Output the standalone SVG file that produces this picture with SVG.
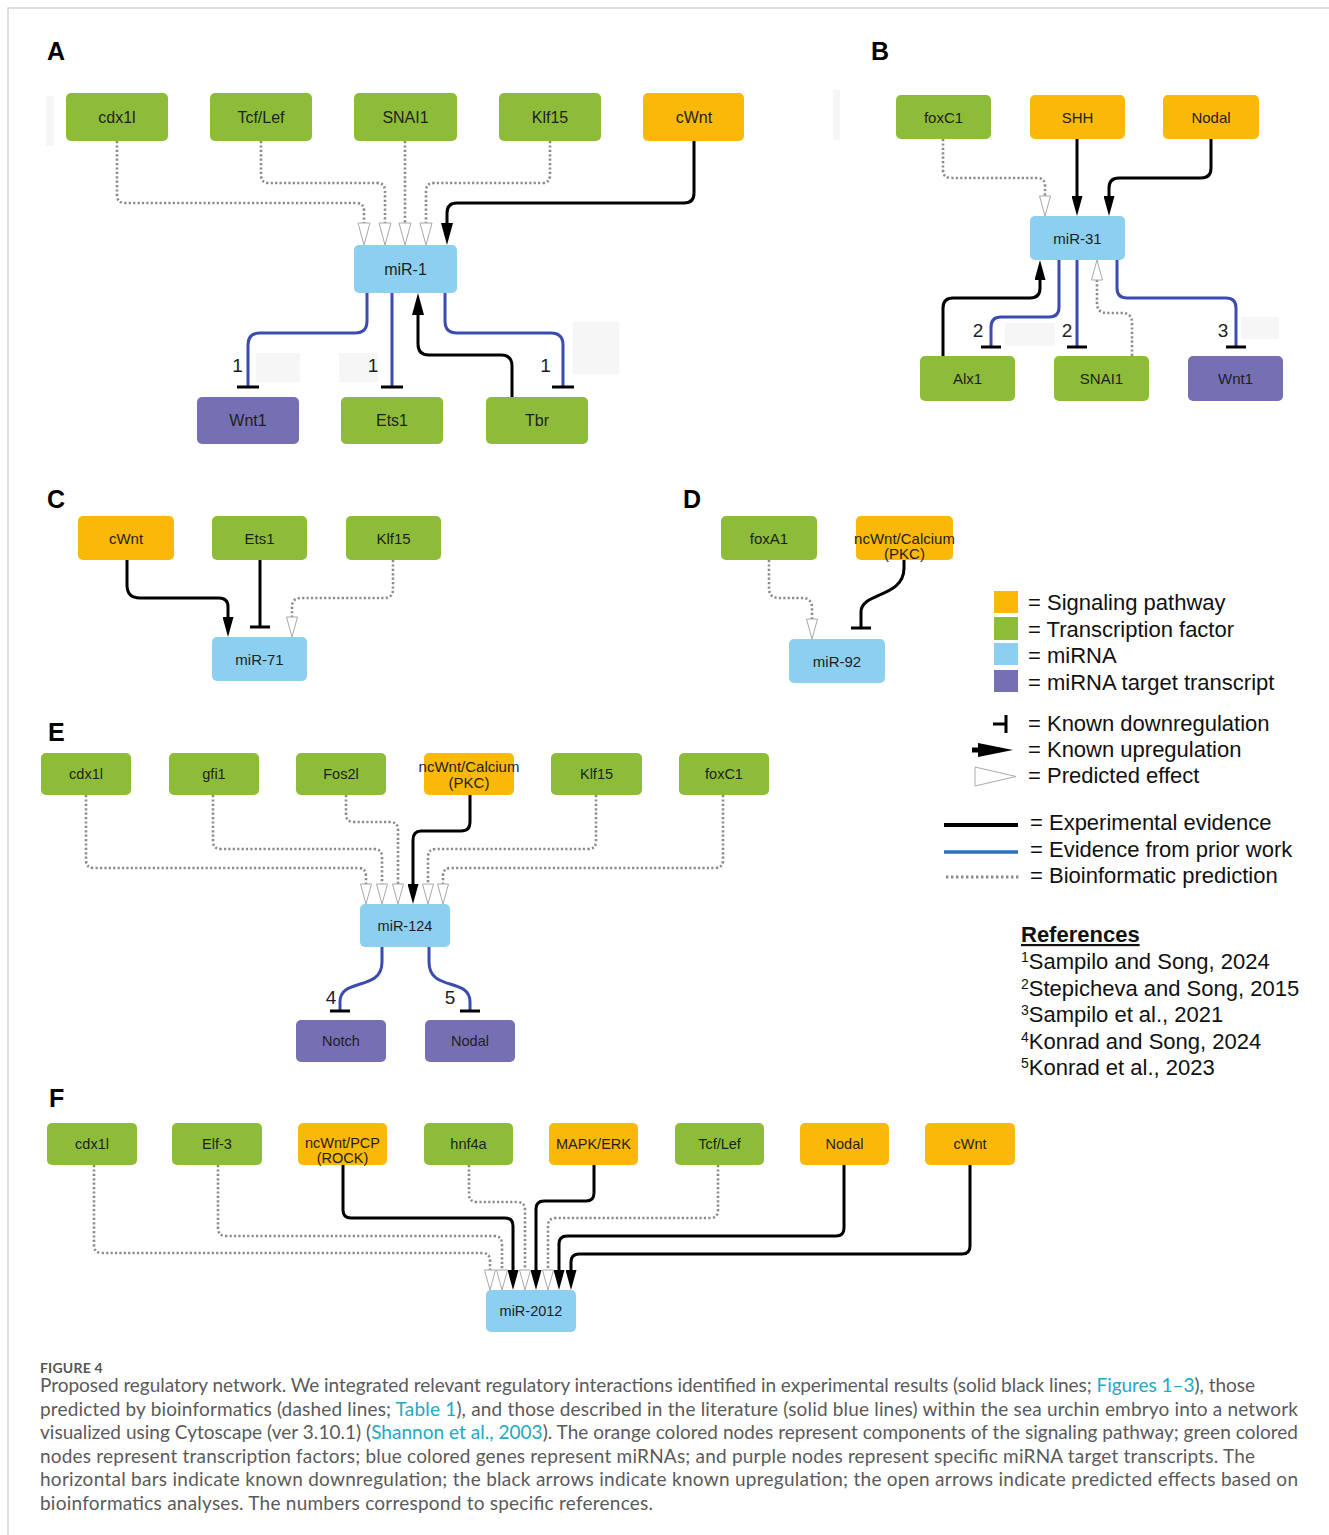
<svg xmlns="http://www.w3.org/2000/svg" width="1329" height="1535" viewBox="0 0 1329 1535">
<style>
.n text{font-family:"Liberation Sans",Arial,sans-serif;fill:#1e1e1e;text-anchor:middle}
.fa text{font-size:16px}.fb text{font-size:15px}.fe text{font-size:14.5px}
.g{fill:#8dbd38}.o{fill:#fab908}.b{fill:#8dcff0}.p{fill:#7570b3}
.ex{stroke:#000;stroke-width:3;fill:none}
.pr{stroke:#3a4cb0;stroke-width:3;fill:none}
.bi{stroke:#8c8c8c;stroke-width:2.6;stroke-dasharray:2.2 2.2;fill:none}
.lbl{font-family:"Liberation Sans",Arial,sans-serif;font-weight:bold;font-size:25px;fill:#000}
.num{font-family:"Liberation Sans",Arial,sans-serif;font-size:19px;fill:#1e1e1e;text-anchor:middle}
.lg{font-family:"Liberation Sans",Arial,sans-serif;font-size:22px;fill:#111}
.cap{font-family:Lato,"Liberation Sans",sans-serif;font-size:19px;fill:#5a5a5a}
.lnk{fill:#22a8c4}
.pale{fill:#f6f6f6}
</style>
<defs>
<marker id="ab" markerUnits="userSpaceOnUse" viewBox="0 0 20 11" markerWidth="20" markerHeight="11" refX="0" refY="5.5" orient="auto"><path d="M0,0 L20,5.5 L0,11 z" fill="#000"/></marker>
<marker id="abL" markerUnits="userSpaceOnUse" viewBox="0 0 22 12" markerWidth="22" markerHeight="12" refX="0" refY="6" orient="auto"><path d="M0,0 L22,6 L0,12 z" fill="#000"/></marker>
<marker id="ao" markerUnits="userSpaceOnUse" viewBox="-1 -1 22 13" markerWidth="22" markerHeight="13" refX="0" refY="5.5" orient="auto"><path d="M0,0 L20,5.5 L0,11 z" fill="#fff" stroke="#a8a8a8" stroke-width="1"/></marker>
<marker id="aoL" markerUnits="userSpaceOnUse" viewBox="-1 -1 24 14" markerWidth="24" markerHeight="14" refX="0" refY="6" orient="auto"><path d="M0,0 L22,6 L0,12 z" fill="#fff" stroke="#a8a8a8" stroke-width="1"/></marker>
<marker id="tb" markerUnits="userSpaceOnUse" viewBox="-2 -10 4 20" markerWidth="4" markerHeight="20" refX="0" refY="0" orient="auto"><path d="M0,-10 V10" stroke="#000" stroke-width="3"/></marker>
<marker id="tbL" markerUnits="userSpaceOnUse" viewBox="-2 -11 4 22" markerWidth="4" markerHeight="22" refX="0" refY="0" orient="auto"><path d="M0,-11 V11" stroke="#000" stroke-width="3"/></marker>
</defs>
<rect width="1329" height="1535" fill="#fff"/>
<path d="M8,1535 V8 H1329" fill="none" stroke="#d6d6d6" stroke-width="1.5"/>

<!-- faint artifacts -->
<rect class="pale" x="46" y="96" width="8" height="50"/>
<rect class="pale" x="833" y="90" width="7" height="50"/>
<rect class="pale" x="256" y="353" width="44" height="29"/>
<rect class="pale" x="339" y="353" width="39" height="29"/>
<rect class="pale" x="573" y="322" width="46" height="52"/>
<rect class="pale" x="1005" y="323" width="50" height="23"/>
<rect class="pale" x="1241" y="317" width="38" height="22"/>

<!-- panel labels -->
<text class="lbl" x="47" y="60">A</text>
<text class="lbl" x="871" y="60">B</text>
<text class="lbl" x="47" y="508">C</text>
<text class="lbl" x="683" y="508">D</text>
<text class="lbl" x="48" y="741">E</text>
<text class="lbl" x="49" y="1107">F</text>

<!-- connectors -->
<g id="connectors">
<!-- A -->
<path class="bi" d="M117,141 V195 Q117,203 125,203 H356 Q364,203 364,211 V223" marker-end="url(#aoL)"/>
<path class="bi" d="M261,141 V175 Q261,183 269,183 H377 Q385,183 385,191 V223" marker-end="url(#aoL)"/>
<path class="bi" d="M405,141 V223" marker-end="url(#aoL)"/>
<path class="bi" d="M550,141 V175 Q550,183 542,183 H434 Q426,183 426,191 V223" marker-end="url(#aoL)"/>
<path class="ex" d="M694,141 V193 Q694,203 684,203 H457 Q447,203 447,213 V223" marker-end="url(#abL)"/>
<path class="pr" d="M367,293 V321 Q367,333 355,333 H260 Q248,333 248,345 V387" marker-end="url(#tbL)"/>
<path class="pr" d="M392,293 V387" marker-end="url(#tbL)"/>
<path class="ex" d="M512,397 V366 Q512,355 501,355 H429 Q418,355 418,344 V315" marker-end="url(#abL)"/>
<path class="pr" d="M445,293 V321 Q445,333 457,333 H551 Q563,333 563,345 V387" marker-end="url(#tbL)"/>
<!-- B -->
<path class="bi" d="M943,139 V170 Q943,178 951,178 H1037 Q1045,178 1045,186 V196" marker-end="url(#ao)"/>
<path class="ex" d="M1077,139 V196" marker-end="url(#ab)"/>
<path class="ex" d="M1211,139 V168 Q1211,178 1201,178 H1119 Q1109,178 1109,188 V196" marker-end="url(#ab)"/>
<path class="ex" d="M943,356 V308 Q943,298 953,298 H1030 Q1040,298 1040,288 V280" marker-end="url(#ab)"/>
<path class="pr" d="M1059,260 V307 Q1059,317 1049,317 H1001 Q991,317 991,327 V347" marker-end="url(#tb)"/>
<path class="pr" d="M1077,260 V347" marker-end="url(#tb)"/>
<path class="bi" d="M1132,356 V323 Q1132,313 1122,313 H1107 Q1097,313 1097,303 V280" marker-end="url(#ao)"/>
<path class="pr" d="M1117,260 V288 Q1117,298 1127,298 H1226 Q1236,298 1236,308 V347" marker-end="url(#tb)"/>
<!-- C -->
<path class="ex" d="M127,560 V585 Q127,598 140,598 H219 Q228,598 228,607 V617" marker-end="url(#ab)"/>
<path class="ex" d="M260,560 V627" marker-end="url(#tb)"/>
<path class="bi" d="M393,560 V589 Q393,598 384,598 H301 Q292,598 292,607 V617" marker-end="url(#ao)"/>
<!-- D -->
<path class="bi" d="M769,560 V588 Q769,598 779,598 H802 Q812,598 812,608 V619" marker-end="url(#ao)"/>
<path class="ex" d="M904,560 V568 C904,598 861,592 861,612 V628" marker-end="url(#tb)"/>
<!-- E -->
<path class="bi" d="M86,795 V860 Q86,868 94,868 H358 Q366,868 366,876 V884" marker-end="url(#ao)"/>
<path class="bi" d="M213,795 V841 Q213,849 221,849 H374 Q382,849 382,857 V884" marker-end="url(#ao)"/>
<path class="bi" d="M346,795 V814 Q346,822 354,822 H390 Q398,822 398,830 V884" marker-end="url(#ao)"/>
<path class="ex" d="M470,795 V822 Q470,831 461,831 H421 Q413,831 413,840 V884" marker-end="url(#ab)"/>
<path class="bi" d="M596,795 V841 Q596,849 588,849 H436 Q428,849 428,857 V884" marker-end="url(#ao)"/>
<path class="bi" d="M723,795 V860 Q723,868 715,868 H451 Q443,868 443,876 V884" marker-end="url(#ao)"/>
<path class="pr" d="M382,947 V962 C382,992 340,977 340,1002 V1011" marker-end="url(#tb)"/>
<path class="pr" d="M429,947 V962 C429,992 470,977 470,1002 V1011" marker-end="url(#tb)"/>
<!-- F -->
<path class="bi" d="M94,1165 V1245 Q94,1253 102,1253 H482 Q490,1253 490,1261 V1270" marker-end="url(#ao)"/>
<path class="bi" d="M218,1165 V1228 Q218,1236 226,1236 H494 Q502,1236 502,1244 V1270" marker-end="url(#ao)"/>
<path class="ex" d="M343,1165 V1210 Q343,1218 351,1218 H505 Q513,1218 513,1226 V1270" marker-end="url(#ab)"/>
<path class="bi" d="M469,1165 V1194 Q469,1202 477,1202 H517 Q525,1202 525,1210 V1270" marker-end="url(#ao)"/>
<path class="ex" d="M594,1165 V1193 Q594,1201 586,1201 H544 Q536,1201 536,1209 V1270" marker-end="url(#ab)"/>
<path class="bi" d="M718,1165 V1210 Q718,1218 710,1218 H556 Q548,1218 548,1226 V1270" marker-end="url(#ao)"/>
<path class="ex" d="M844,1165 V1228 Q844,1236 836,1236 H567 Q559,1236 559,1244 V1270" marker-end="url(#ab)"/>
<path class="ex" d="M970,1165 V1246 Q970,1254 962,1254 H579 Q571,1254 571,1262 V1270" marker-end="url(#ab)"/>
</g>

<!-- reference numbers -->
<text class="num" x="237.5" y="372">1</text>
<text class="num" x="373" y="372">1</text>
<text class="num" x="545.5" y="372">1</text>
<text class="num" x="978" y="337">2</text>
<text class="num" x="1067" y="337">2</text>
<text class="num" x="1223" y="337">3</text>
<text class="num" x="331" y="1004">4</text>
<text class="num" x="450" y="1004">5</text>

<!-- Panel A nodes -->
<g class="n fa">
<g id="A-cdx1l"><rect class="g" x="66" y="93" width="102" height="48" rx="5"/><text x="117" y="122.5">cdx1l</text></g>
<g id="A-TcfLef"><rect class="g" x="210" y="93" width="102" height="48" rx="5"/><text x="261" y="122.5">Tcf/Lef</text></g>
<g id="A-SNAI1"><rect class="g" x="354" y="93" width="103" height="48" rx="5"/><text x="405.5" y="122.5">SNAI1</text></g>
<g id="A-Klf15"><rect class="g" x="499" y="93" width="102" height="48" rx="5"/><text x="550" y="122.5">Klf15</text></g>
<g id="A-cWnt"><rect class="o" x="643" y="93" width="101" height="48" rx="5"/><text x="694" y="122.5">cWnt</text></g>
<g id="A-miR1"><rect class="b" x="354" y="245" width="103" height="48" rx="5"/><text x="405.5" y="274.5">miR-1</text></g>
<g id="A-Wnt1"><rect class="p" x="197" y="397" width="102" height="47" rx="5"/><text x="248" y="426">Wnt1</text></g>
<g id="A-Ets1"><rect class="g" x="341" y="397" width="102" height="47" rx="5"/><text x="392" y="426">Ets1</text></g>
<g id="A-Tbr"><rect class="g" x="486" y="397" width="102" height="47" rx="5"/><text x="537" y="426">Tbr</text></g>
</g>

<!-- Panel B nodes -->
<g class="n fb">
<g id="B-foxC1"><rect class="g" x="896" y="95" width="95" height="44" rx="5"/><text x="943.5" y="122.5">foxC1</text></g>
<g id="B-SHH"><rect class="o" x="1030" y="95" width="95" height="44" rx="5"/><text x="1077.5" y="122.5">SHH</text></g>
<g id="B-Nodal"><rect class="o" x="1163" y="95" width="96" height="44" rx="5"/><text x="1211" y="122.5">Nodal</text></g>
<g id="B-miR31"><rect class="b" x="1030" y="216" width="95" height="44" rx="5"/><text x="1077.5" y="243.5">miR-31</text></g>
<g id="B-Alx1"><rect class="g" x="920" y="356" width="95" height="45" rx="5"/><text x="967.5" y="384">Alx1</text></g>
<g id="B-SNAI1"><rect class="g" x="1054" y="356" width="95" height="45" rx="5"/><text x="1101.5" y="384">SNAI1</text></g>
<g id="B-Wnt1"><rect class="p" x="1188" y="356" width="95" height="45" rx="5"/><text x="1235.5" y="384">Wnt1</text></g>
</g>

<!-- Panel C nodes -->
<g class="n fb">
<g id="C-cWnt"><rect class="o" x="78" y="516" width="96" height="44" rx="5"/><text x="126" y="543.5">cWnt</text></g>
<g id="C-Ets1"><rect class="g" x="212" y="516" width="95" height="44" rx="5"/><text x="259.5" y="543.5">Ets1</text></g>
<g id="C-Klf15"><rect class="g" x="346" y="516" width="95" height="44" rx="5"/><text x="393.5" y="543.5">Klf15</text></g>
<g id="C-miR71"><rect class="b" x="212" y="637" width="95" height="44" rx="5"/><text x="259.5" y="664.5">miR-71</text></g>
</g>

<!-- Panel D nodes -->
<g class="n fb">
<g id="D-foxA1"><rect class="g" x="721" y="516" width="96" height="44" rx="5"/><text x="769" y="543.5">foxA1</text></g>
<g id="D-ncWnt"><rect class="o" x="856" y="516" width="97" height="44" rx="5"/><text x="904.5" y="544">ncWnt/Calcium</text><text x="904.5" y="559">(PKC)</text></g>
<g id="D-miR92"><rect class="b" x="789" y="639" width="96" height="44" rx="5"/><text x="837" y="666.5">miR-92</text></g>
</g>

<!-- Panel E nodes -->
<g class="n fe">
<g id="E-cdx1l"><rect class="g" x="41" y="753" width="90" height="42" rx="5"/><text x="86" y="779">cdx1l</text></g>
<g id="E-gfi1"><rect class="g" x="169" y="753" width="90" height="42" rx="5"/><text x="214" y="779">gfi1</text></g>
<g id="E-Fos2l"><rect class="g" x="296" y="753" width="90" height="42" rx="5"/><text x="341" y="779">Fos2l</text></g>
<g id="E-ncWnt"><rect class="o" x="424" y="753" width="90" height="42" rx="5"/><text x="469" y="772" style="font-size:15px">ncWnt/Calcium</text><text x="469" y="788" style="font-size:15px">(PKC)</text></g>
<g id="E-Klf15"><rect class="g" x="551" y="753" width="91" height="42" rx="5"/><text x="596.5" y="779">Klf15</text></g>
<g id="E-foxC1"><rect class="g" x="679" y="753" width="90" height="42" rx="5"/><text x="724" y="779">foxC1</text></g>
<g id="E-miR124"><rect class="b" x="360" y="904" width="90" height="43" rx="5"/><text x="405" y="930.5">miR-124</text></g>
<g id="E-Notch"><rect class="p" x="296" y="1020" width="90" height="42" rx="5"/><text x="341" y="1046">Notch</text></g>
<g id="E-Nodal"><rect class="p" x="425" y="1020" width="90" height="42" rx="5"/><text x="470" y="1046">Nodal</text></g>
</g>

<!-- Panel F nodes -->
<g class="n fe">
<g id="F-cdx1l"><rect class="g" x="47" y="1123" width="90" height="42" rx="5"/><text x="92" y="1149">cdx1l</text></g>
<g id="F-Elf3"><rect class="g" x="172" y="1123" width="90" height="42" rx="5"/><text x="217" y="1149">Elf-3</text></g>
<g id="F-ncWntPCP"><rect class="o" x="298" y="1123" width="89" height="42" rx="5"/><text x="342.5" y="1148">ncWnt/PCP</text><text x="342.5" y="1163">(ROCK)</text></g>
<g id="F-hnf4a"><rect class="g" x="424" y="1123" width="89" height="42" rx="5"/><text x="468.5" y="1149">hnf4a</text></g>
<g id="F-MAPK"><rect class="o" x="549" y="1123" width="89" height="42" rx="5"/><text x="593.5" y="1149">MAPK/ERK</text></g>
<g id="F-TcfLef"><rect class="g" x="675" y="1123" width="89" height="42" rx="5"/><text x="719.5" y="1149">Tcf/Lef</text></g>
<g id="F-Nodal"><rect class="o" x="800" y="1123" width="89" height="42" rx="5"/><text x="844.5" y="1149">Nodal</text></g>
<g id="F-cWnt"><rect class="o" x="925" y="1123" width="90" height="42" rx="5"/><text x="970" y="1149">cWnt</text></g>
<g id="F-miR2012"><rect class="b" x="486" y="1290" width="90" height="42" rx="5"/><text x="531" y="1316">miR-2012</text></g>
</g>

<!-- Legend -->
<g id="legend">
<rect class="o" x="994" y="591" width="24" height="22"/>
<rect class="g" x="994" y="617" width="24" height="23"/>
<rect class="b" x="994" y="643" width="24" height="22"/>
<rect class="p" x="994" y="670" width="24" height="22"/>
<text class="lg" x="1028" y="610">= Signaling pathway</text>
<text class="lg" x="1028" y="637">= Transcription factor</text>
<text class="lg" x="1028" y="663">= miRNA</text>
<text class="lg" x="1028" y="690">= miRNA target transcript</text>
<path d="M993,724 H1006 M1006,715 V733" stroke="#000" stroke-width="3" fill="none"/>
<text class="lg" x="1028" y="731">= Known downregulation</text>
<path d="M972,750 H984" stroke="#000" stroke-width="5"/>
<path d="M978,743 L1013,750 L978,757 z" fill="#000"/>
<text class="lg" x="1028" y="757">= Known upregulation</text>
<path d="M975,767 L1016,776.5 L975,786 z" fill="#fff" stroke="#aaa" stroke-width="1"/>
<text class="lg" x="1028" y="783">= Predicted effect</text>
<path d="M944,825 H1018" stroke="#000" stroke-width="4"/>
<text class="lg" x="1030" y="830">= Experimental evidence</text>
<path d="M944,852 H1018" stroke="#2e6fc2" stroke-width="3.5"/>
<text class="lg" x="1030" y="857">= Evidence from prior work</text>
<path d="M946,877 H1020" stroke="#8c8c8c" stroke-width="3" stroke-dasharray="2.4 2.6"/>
<text class="lg" x="1030" y="883">= Bioinformatic prediction</text>
</g>

<!-- References -->
<g id="references" class="lg">
<text x="1021" y="942" font-weight="bold" text-decoration="underline">References</text>
<text x="1021" y="969"><tspan font-size="14" dy="-7">1</tspan><tspan dy="7">Sampilo and Song, 2024</tspan></text>
<text x="1021" y="995.5"><tspan font-size="14" dy="-7">2</tspan><tspan dy="7">Stepicheva and Song, 2015</tspan></text>
<text x="1021" y="1022"><tspan font-size="14" dy="-7">3</tspan><tspan dy="7">Sampilo et al., 2021</tspan></text>
<text x="1021" y="1048.5"><tspan font-size="14" dy="-7">4</tspan><tspan dy="7">Konrad and Song, 2024</tspan></text>
<text x="1021" y="1075"><tspan font-size="14" dy="-7">5</tspan><tspan dy="7">Konrad et al., 2023</tspan></text>
</g>

<!-- Caption -->
<g id="caption">
<text x="40" y="1373" style="font-family:Lato,'Liberation Sans',sans-serif;font-size:14px;font-weight:bold;fill:#555;letter-spacing:0.2px">FIGURE 4</text>
<text class="cap" x="40" y="1392" textLength="1215" lengthAdjust="spacing">Proposed regulatory network. We integrated relevant regulatory interactions identified in experimental results (solid black lines; <tspan class="lnk">Figures 1–3</tspan>), those</text>
<text class="cap" x="40" y="1415.5" textLength="1258" lengthAdjust="spacing">predicted by bioinformatics (dashed lines; <tspan class="lnk">Table 1</tspan>), and those described in the literature (solid blue lines) within the sea urchin embryo into a network</text>
<text class="cap" x="40" y="1439" textLength="1258" lengthAdjust="spacing">visualized using Cytoscape (ver 3.10.1) (<tspan class="lnk">Shannon et al., 2003</tspan>). The orange colored nodes represent components of the signaling pathway; green colored</text>
<text class="cap" x="40" y="1462.5" textLength="1215" lengthAdjust="spacing">nodes represent transcription factors; blue colored genes represent miRNAs; and purple nodes represent specific miRNA target transcripts. The</text>
<text class="cap" x="40" y="1486" textLength="1258" lengthAdjust="spacing">horizontal bars indicate known downregulation; the black arrows indicate known upregulation; the open arrows indicate predicted effects based on</text>
<text class="cap" x="40" y="1509.5" textLength="613" lengthAdjust="spacing">bioinformatics analyses. The numbers correspond to specific references.</text>
</g>
</svg>
